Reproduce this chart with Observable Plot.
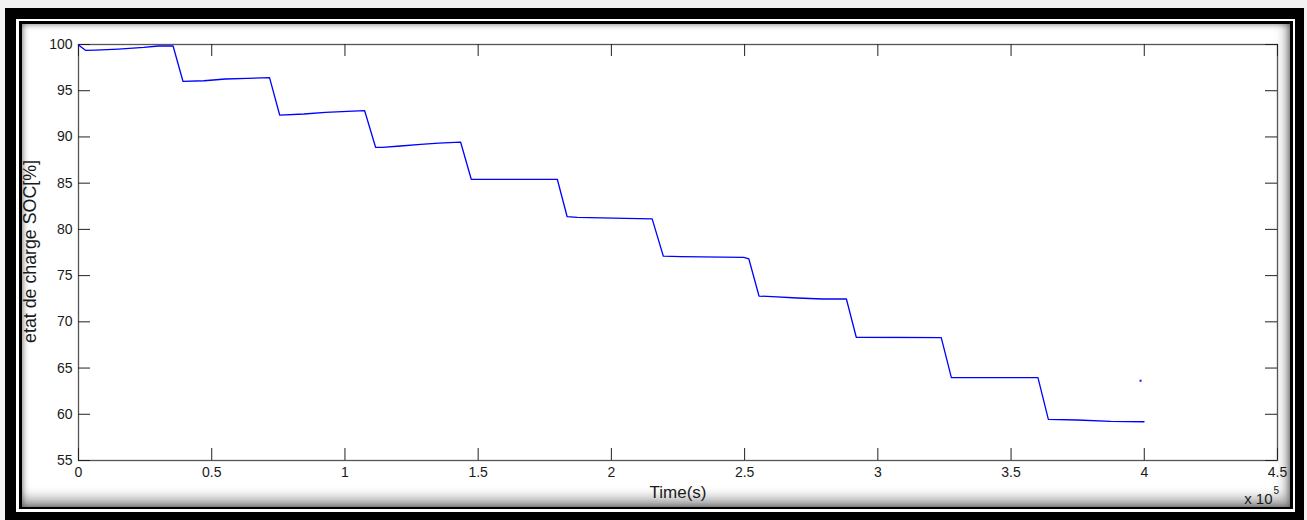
<!DOCTYPE html>
<html>
<head>
<meta charset="utf-8">
<script src="https://cdn.jsdelivr.net/npm/d3@7"></script>
<script src="https://cdn.jsdelivr.net/npm/@observablehq/plot@0.6"></script>
<style>
  html, body { margin: 0; padding: 0; background: #f2f2f2; width: 1307px; height: 520px; overflow: hidden; }
  .box { position: absolute; }
  #outer { left: 5px; top: 8px; width: 1299px; height: 530px; background: #000; }
  #gap { left: 16px; top: 19px; width: 1279px; height: 493px; background: #fff; }
  #inner { left: 19px; top: 21px; width: 1274px; height: 488px; background: #000; }
  #panel { left: 22px; top: 24px; width: 1268px; height: 483px; background: #fff;
           box-shadow: inset 0 0 6px rgba(0,0,0,0.55), inset -4px -9px 12px rgba(0,0,0,0.35); }
  #chart { position: absolute; left: 0; top: 0; }
</style>
</head>
<body>
<div class="box" id="outer"></div>
<div class="box" id="gap"></div>
<div class="box" id="inner"></div>
<div class="box" id="panel"></div>
<div id="chart"></div>
<script>
// Time (s) and state of charge SOC (%)
const timeS = [0, 2600, 6400, 15000, 24500, 30000, 35500,
  39200, 47100, 55200, 63300, 71700,
  75500, 84600, 92700, 100900, 107400,
  111500, 114000, 120900, 128400, 135200, 143400,
  147400, 179700,
  183400, 187200, 205300, 215300,
  219500, 226000, 249700, 251600,
  255400, 260400, 269800, 279200, 288200,
  291900, 323800,
  327600, 360100,
  364000, 374900, 387400, 399900];
const soc = [99.95, 99.37, 99.40, 99.51, 99.69, 99.84, 99.84,
  96.02, 96.08, 96.27, 96.34, 96.41,
  92.37, 92.48, 92.66, 92.77, 92.84,
  88.88, 88.88, 89.02, 89.20, 89.34, 89.45,
  85.42, 85.42,
  81.37, 81.30, 81.20, 81.14,
  77.10, 77.05, 76.98, 76.80,
  72.79, 72.72, 72.58, 72.47, 72.47,
  68.33, 68.29,
  63.96, 63.96,
  59.45, 59.38, 59.24, 59.19];
const strayTime = [398600];
const straySoc = [63.63];
const xTicks = [0, 50000, 100000, 150000, 200000, 250000, 300000, 350000, 400000, 450000];
const yTicks = [55, 60, 65, 70, 75, 80, 85, 90, 95, 100];
const xLabel = "Time(s)";
const yLabel = "etat de charge SOC[%]";
const expBase = "x 10";
const expPow = "5";

const W = 1307, H = 520;
const mL = 78, mR = 30, mT = 44, mB = 60;
const plotW = W - mL - mR, plotH = H - mT - mB;
const tickLen = 12;

const data = timeS.map((t, i) => ({t, v: soc[i]}));
const stray = strayTime.map((t, i) => ({t, v: straySoc[i]}));

const chart = Plot.plot({
  width: W, height: H,
  marginLeft: mL, marginRight: mR, marginTop: mT, marginBottom: mB,
  style: {background: "transparent", fontFamily: "'Liberation Sans', Arial, sans-serif", fontSize: "14px", color: "#1a1a1a"},
  x: {domain: [0, 450000], label: null},
  y: {domain: [55, 100], label: null},
  marks: [
    Plot.frame({stroke: "#555", strokeWidth: 1.3}),
    Plot.tickX(xTicks, {x: d => d, insetTop: plotH - tickLen, stroke: "#222"}),
    Plot.tickX(xTicks, {x: d => d, insetBottom: plotH - tickLen, stroke: "#222"}),
    Plot.tickY(yTicks, {y: d => d, insetRight: plotW - tickLen, stroke: "#222"}),
    Plot.tickY(yTicks, {y: d => d, insetLeft: plotW - tickLen, stroke: "#222"}),
    Plot.axisX(xTicks, {anchor: "bottom", tickSize: 0, tickPadding: 7, tickFormat: d => String(d / 1e5), fontSize: 14}),
    Plot.axisY(yTicks, {anchor: "left", tickSize: 0, tickPadding: 6, fontSize: 14}),
    Plot.line(data, {x: "t", y: "v", stroke: "#0000ff", strokeWidth: 1.3}),
    Plot.dot(stray, {x: "t", y: "v", r: 1.2, fill: "#3a3aff", stroke: "none"}),
    Plot.text([xLabel], {frameAnchor: "bottom", dy: 37, lineAnchor: "bottom", fontSize: 17}),
    Plot.text([yLabel], {frameAnchor: "left", dx: -43, dy: -1, rotate: -90, textAnchor: "middle", lineAnchor: "bottom", fontSize: 17.8}),
    Plot.text([expBase], {frameAnchor: "bottom-right", dx: -5, dy: 43, textAnchor: "end", lineAnchor: "bottom", fontSize: 15}),
    Plot.text([expPow], {frameAnchor: "bottom-right", dx: -4, dy: 33, textAnchor: "start", lineAnchor: "bottom", fontSize: 10})
  ]
});
document.getElementById("chart").appendChild(chart);
</script>
</body>
</html>
